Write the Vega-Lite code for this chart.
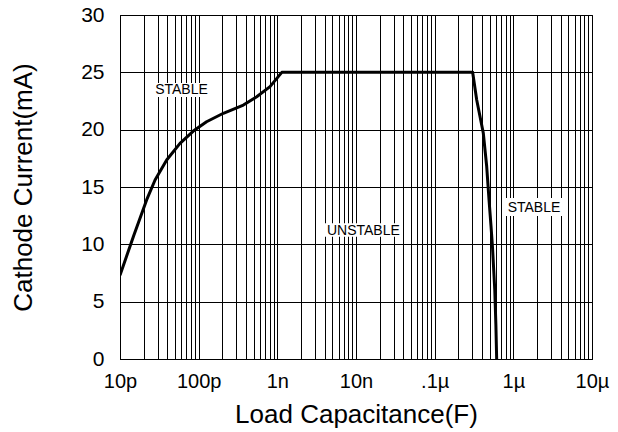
{
  "$schema": "https://vega.github.io/schema/vega-lite/v6.json",
  "width": 472,
  "height": 344,
  "autosize": {"type": "none"},
  "padding": {"left": 120, "top": 15, "right": 26, "bottom": 73},
  "background": "white",
  "config": {
    "view": {"stroke": "black", "strokeWidth": 1},
    "font": "Liberation Sans",
    "axis": {
      "grid": true,
      "gridColor": "black",
      "gridOpacity": 1,
      "gridWidth": 1,
      "ticks": false,
      "domainColor": "black",
      "domainWidth": 1,
      "labelFont": "Liberation Sans",
      "labelColor": "black",
      "titleFont": "Liberation Sans",
      "titleColor": "black",
      "titleFontWeight": "normal",
      "titleFontSize": 26,
      "labelOverlap": false,
      "labelBound": false,
      "labelFlush": false
    }
  },
  "datasets": {
    "curve": [
      {"C": 1.0e-11, "I": 7.3},
      {"C": 1.5e-11, "I": 10.8},
      {"C": 2.18e-11, "I": 13.87},
      {"C": 2.79e-11, "I": 15.61},
      {"C": 3.92e-11, "I": 17.35},
      {"C": 5.79e-11, "I": 18.81},
      {"C": 8.55e-11, "I": 19.88},
      {"C": 1.26e-10, "I": 20.69},
      {"C": 2.06e-10, "I": 21.43},
      {"C": 3.7e-10, "I": 22.15},
      {"C": 5.47e-10, "I": 22.87},
      {"C": 8.07e-10, "I": 23.75},
      {"C": 1.14e-9, "I": 25.0},
      {"C": 3.04e-7, "I": 25.0},
      {"C": 3.42e-7, "I": 22.61},
      {"C": 4.15e-7, "I": 19.71},
      {"C": 4.58e-7, "I": 16.83},
      {"C": 4.91e-7, "I": 13.87},
      {"C": 5.2e-7, "I": 11.6},
      {"C": 5.43e-7, "I": 9.79},
      {"C": 5.81e-7, "I": 6.02},
      {"C": 6.0e-7, "I": 3.0},
      {"C": 6.14e-7, "I": 0}
    ],
    "labels": [
      {"label": "STABLE", "x0": 2.08e-11, "x1": 1.52e-10, "y0": 22.85, "y1": 24.07, "cx": 6.05e-11, "cy": 23.43},
      {"label": "UNSTABLE", "x0": 3.84e-9, "x1": 3.88e-8, "y0": 10.67, "y1": 11.83, "cx": 1.24e-8, "cy": 11.16},
      {"label": "STABLE", "x0": 7.83e-7, "x1": 4.27e-6, "y0": 12.47, "y1": 14.04, "cx": 1.83e-6, "cy": 13.21}
    ]
  },
  "layer": [
    {
      "data": {"name": "curve"},
      "mark": {"type": "line", "color": "black", "strokeWidth": 3, "strokeJoin": "round", "clip": true},
      "encoding": {
        "x": {
          "field": "C",
          "type": "quantitative",
          "scale": {"type": "log", "domain": [1e-11, 1e-5], "nice": false},
          "axis": {
            "title": "Load Capacitance(F)",
            "titlePadding": 10,
            "labelFontSize": 20,
            "labelPadding": 12,
            "values": [1e-11, 2e-11, 3e-11, 4e-11, 5e-11, 6e-11, 7e-11, 8e-11, 9e-11,
                       1e-10, 2e-10, 3e-10, 4e-10, 5e-10, 6e-10, 7e-10, 8e-10, 9e-10,
                       1e-9, 2e-9, 3e-9, 4e-9, 5e-9, 6e-9, 7e-9, 8e-9, 9e-9,
                       1e-8, 2e-8, 3e-8, 4e-8, 5e-8, 6e-8, 7e-8, 8e-8, 9e-8,
                       1e-7, 2e-7, 3e-7, 4e-7, 5e-7, 6e-7, 7e-7, 8e-7, 9e-7,
                       1e-6, 2e-6, 3e-6, 4e-6, 5e-6, 6e-6, 7e-6, 8e-6, 9e-6, 1e-5],
            "labelExpr": "abs(log(datum.value)/LN10 - round(log(datum.value)/LN10)) > 0.01 ? '' : ['10p','100p','1n','10n','.1µ','1µ','10µ'][round(log(datum.value)/LN10) + 11]"
          }
        },
        "y": {
          "field": "I",
          "type": "quantitative",
          "scale": {"domain": [0, 30], "nice": false},
          "axis": {
            "title": "Cathode Current(mA)",
            "titlePadding": 44,
            "labelFontSize": 21,
            "labelPadding": 16,
            "values": [0, 5, 10, 15, 20, 25, 30]
          }
        }
      }
    },
    {
      "data": {"name": "labels"},
      "mark": {"type": "rect", "fill": "white", "stroke": null},
      "encoding": {
        "x": {"field": "x0", "type": "quantitative"},
        "x2": {"field": "x1"},
        "y": {"field": "y0", "type": "quantitative"},
        "y2": {"field": "y1"}
      }
    },
    {
      "data": {"name": "labels"},
      "mark": {"type": "text", "font": "Liberation Sans", "fontSize": 14, "color": "black", "align": "center", "baseline": "middle"},
      "encoding": {
        "x": {"field": "cx", "type": "quantitative"},
        "y": {"field": "cy", "type": "quantitative"},
        "text": {"field": "label"}
      }
    }
  ]
}
